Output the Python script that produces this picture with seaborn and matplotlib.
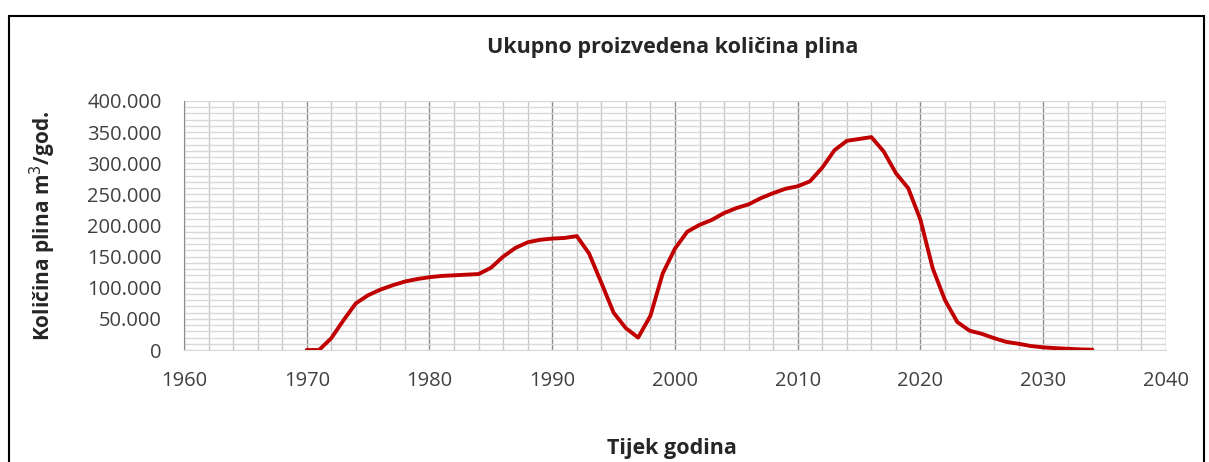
import matplotlib
matplotlib.use('Agg')
import matplotlib.pyplot as plt
import seaborn as sns
import pandas as pd
from matplotlib.ticker import MultipleLocator, FuncFormatter
from matplotlib.patches import Rectangle

# podaci
godine = list(range(1970, 2035))
kolicina = [0, 0, 19000, 48000, 75000, 88000, 97000, 104000, 110000, 114000,
            117000, 119000, 120000, 121000, 122000, 132000, 150000, 164000, 173000, 177000,
            179000, 180000, 183000, 155000, 108000, 60000, 35000, 20000, 55000, 123000,
            163000, 190000, 201000, 209000, 220000, 228000, 234000, 244000, 252000, 259000,
            263000, 271000, 293000, 321000, 336000, 339000, 342000, 319000, 284000, 260000,
            209000, 131000, 80000, 45000, 31000, 26000, 19000, 13000, 10000, 6400,
            4300, 3000, 2000, 1000, 500]

naslov = 'Ukupno proizvedena količina plina'
x_naziv = 'Tijek godina'
y_naziv = 'Količina plina m$^3$/god.'

df = pd.DataFrame({'godina': godine, 'kolicina': kolicina})

sns.set_style('white')
plt.rcParams['font.family'] = ['Open Sans', 'DejaVu Sans']

fig = plt.figure(figsize=(12.09, 4.62), dpi=100)
ax = fig.add_axes([0.1522, 0.2424, 0.8122, 0.539])

# okvir grafikona
fig.patches.append(Rectangle((9/1209, -0.1), 1195/1209, 1.1 - 16/462, transform=fig.transFigure,
                             fill=False, edgecolor='black', linewidth=1.5, zorder=0))

sns.lineplot(data=df, x='godina', y='kolicina', ax=ax, color='#c00000', linewidth=2.8, zorder=5)

ax.set_xlim(1960, 2040)
ax.set_ylim(0, 400000)
ax.xaxis.set_major_locator(MultipleLocator(10))
ax.xaxis.set_minor_locator(MultipleLocator(2))
ax.yaxis.set_major_locator(MultipleLocator(50000))
ax.yaxis.set_minor_locator(MultipleLocator(10000))
ax.yaxis.set_major_formatter(FuncFormatter(lambda v, p: f'{int(v):,}'.replace(',', '.')))

ax.grid(which='minor', axis='y', color='#d9d9d9', linewidth=1)
ax.grid(which='major', axis='y', color='#d9d9d9', linewidth=1)
ax.grid(which='minor', axis='x', color='#c8c8c8', linewidth=1)
ax.grid(which='major', axis='x', color='#8c8c8c', linewidth=1)
ax.set_axisbelow(True)

for s in ['top', 'right']:
    ax.spines[s].set_visible(False)
ax.spines['left'].set_color('#8c8c8c')
ax.spines['bottom'].set_color('#d9d9d9')
ax.tick_params(axis='y', which='major', length=5, color='#8c8c8c', labelsize=14.5, labelcolor='#404040', pad=11)
ax.tick_params(axis='x', which='major', length=5, color='#d9d9d9', labelsize=14.5, labelcolor='#404040', pad=10)
ax.tick_params(which='minor', length=0)

ax.set_xlabel(x_naziv, fontsize=15.5, fontweight='bold')
ax.set_ylabel(y_naziv, fontsize=15, fontweight='bold')
ax.xaxis.set_label_coords(0.497, -0.355)
ax.yaxis.set_label_coords(-0.128, 0.5)
fig.text(0.556, 0.898, naslov, fontsize=15.5, fontweight='bold', ha='center', va='center')

fig.savefig('out.png', dpi=100)
